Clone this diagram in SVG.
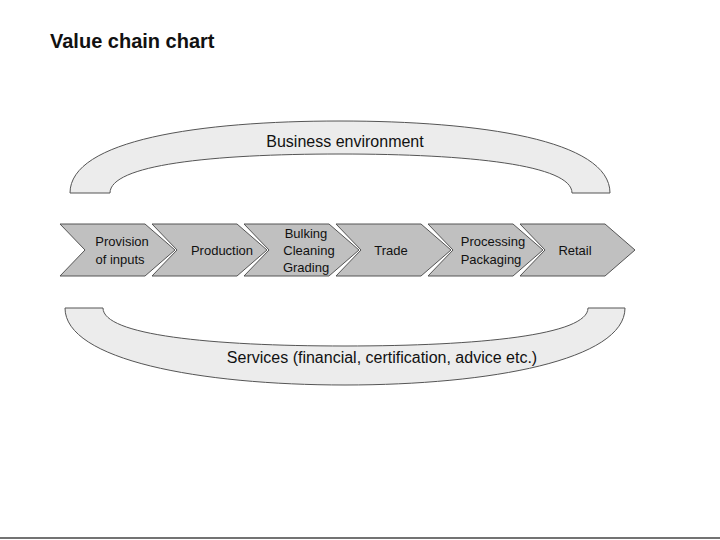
<svg xmlns="http://www.w3.org/2000/svg" width="720" height="540" viewBox="0 0 720 540">
<style>
.arc{fill:#ececec;stroke:#555;stroke-width:1}
.chev{fill:#c0c0c0;stroke:#555;stroke-width:1}
.t{font-family:"Liberation Sans",Arial,sans-serif;font-size:13px;fill:#111;text-anchor:middle}
.big{font-family:"Liberation Sans",Arial,sans-serif;font-size:16px;fill:#111;text-anchor:middle}
</style>
<rect width="720" height="540" fill="#fff"/>
<text x="50" y="48" font-family="Liberation Sans,Arial,sans-serif" font-size="20" font-weight="bold" fill="#111">Value chain chart</text>
<g id="business">
<path class="arc" d="M70,193 C70,140 200,121 340,121 C480,121 610,140 610,193 L572,193 C572,165 470,154 340,154 C210,154 110,165 110,193 Z"/>
<text class="big" x="345" y="147">Business environment</text>
</g>
<g id="services">
<path class="arc" d="M65,308 C65,360 200,385 345,385 C490,385 625,360 625,308 L588,308 C588,335 480,346 345,346 C210,346 103,335 103,308 Z"/>
<text class="big" x="382" y="363">Services (financial, certification, advice etc.)</text>
</g>
<g id="chain">
<g id="n1"><path class="chev" d="M60,224 L145,224 L175,250 L145,276 L60,276 L85,250 Z"/><text class="t" x="122" y="246">Provision</text><text class="t" x="120" y="264">of inputs</text></g>
<g id="n2"><path class="chev" d="M152,224 L237,224 L267,250 L237,276 L152,276 L177,250 Z"/><text class="t" x="222" y="255">Production</text></g>
<g id="n3"><path class="chev" d="M244,224 L329,224 L359,250 L329,276 L244,276 L269,250 Z"/><text class="t" x="306" y="238">Bulking</text><text class="t" x="309" y="255">Cleaning</text><text class="t" x="306" y="272">Grading</text></g>
<g id="n4"><path class="chev" d="M336,224 L421,224 L451,250 L421,276 L336,276 L361,250 Z"/><text class="t" x="391" y="255">Trade</text></g>
<g id="n5"><path class="chev" d="M428,224 L513,224 L543,250 L513,276 L428,276 L453,250 Z"/><text class="t" x="493" y="246">Processing</text><text class="t" x="491" y="264">Packaging</text></g>
<g id="n6"><path class="chev" d="M520,224 L605,224 L635,250 L605,276 L520,276 L545,250 Z"/><text class="t" x="575" y="255">Retail</text></g>
</g>
<line x1="0" y1="538" x2="720" y2="538" stroke="#444" stroke-width="1.5"/>
</svg>
